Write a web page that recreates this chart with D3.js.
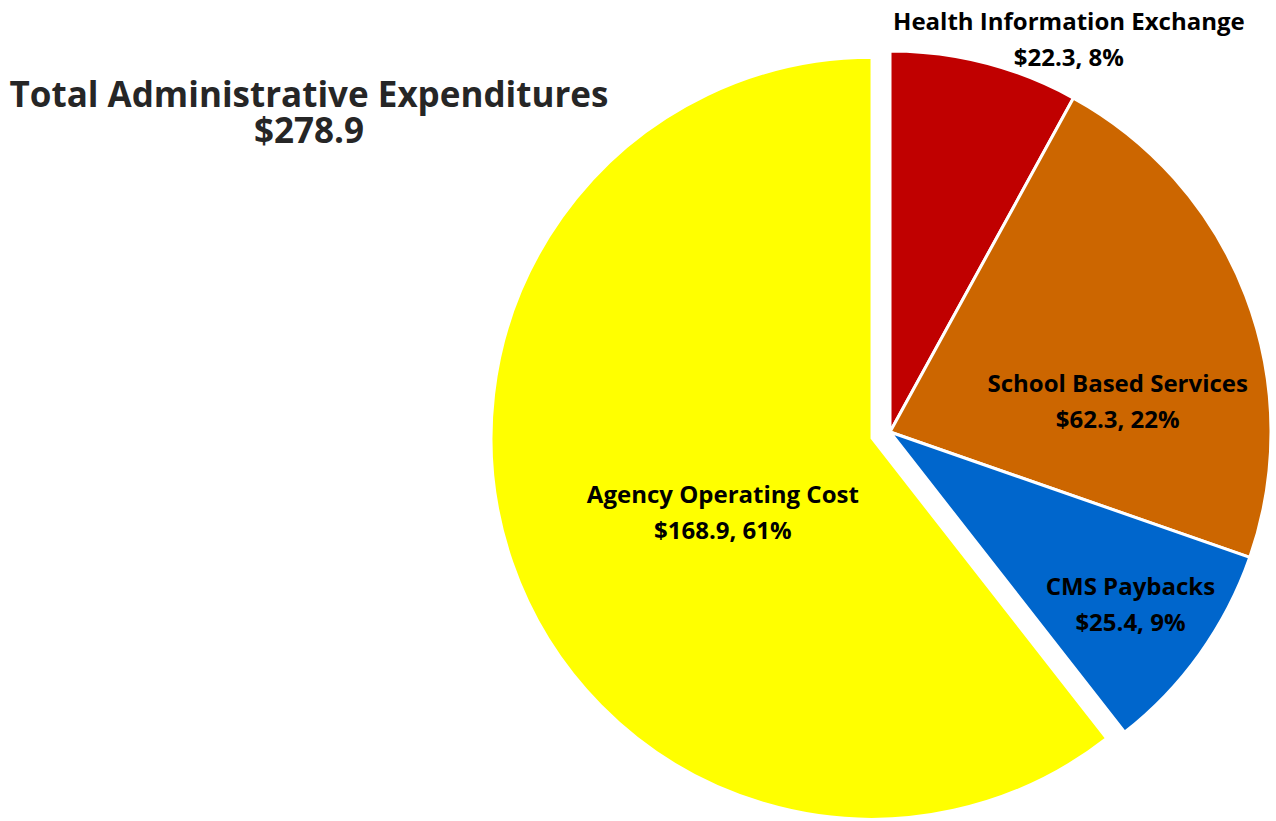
<!DOCTYPE html>
<html>
<head>
<meta charset="utf-8">
<script src="https://cdn.jsdelivr.net/npm/d3@7/dist/d3.min.js"></script>
<style>
  html, body { margin: 0; padding: 0; background: #fff; }
  svg { display: block; font-family: "Open Sans", Lato, "Noto Sans", sans-serif; font-weight: 700; }
</style>
</head>
<body>
<svg id="chart" width="1276" height="821"></svg>
<script>
// Administrative expenditures, $ millions
const categories = ["Health Information Exchange", "School Based Services", "CMS Paybacks", "Agency Operating Cost"];
const values = [22.3, 62.3, 25.4, 168.9];
const colors = ["#C00000", "#CC6600", "#0066CC", "#FFFF00"];
const titleLines = ["Total Administrative Expenditures", "$278.9"];

const total = d3.sum(values);
const svg = d3.select("#chart");

const cx = 890, cy = 432, radius = 381;
const explodeIndex = 3, explodeDist = 19;

const pie = d3.pie().sort(null).value(d => d.value);
const arc = d3.arc().innerRadius(0).outerRadius(radius);

const data = categories.map((c, i) => ({ name: c, value: values[i], color: colors[i] }));
const arcs = pie(data);

// Label anchor (polar, relative to each slice's own centre)
const labelPlacement = [
  { angle: 24.4, dist: 433 },
  { angle: 81.9, dist: 230 },
  { angle: 125.4, dist: 295 },
  { angle: 244, dist: 166 }
];

const g = svg.append("g").attr("transform", `translate(${cx},${cy})`);

arcs.forEach((a, i) => {
  const mid = (a.startAngle + a.endAngle) / 2;
  const off = i === explodeIndex ? explodeDist : 0;
  const ox = Math.sin(mid) * off, oy = -Math.cos(mid) * off;
  const sg = g.append("g").attr("transform", `translate(${ox},${oy})`);
  sg.append("path")
    .attr("d", arc(a))
    .attr("fill", a.data.color)
    .attr("stroke", "#fff")
    .attr("stroke-width", 3)
    .attr("stroke-linejoin", "round");

  const lp = labelPlacement[i];
  const ang = lp.angle * Math.PI / 180;
  const lx = Math.sin(ang) * lp.dist, ly = -Math.cos(ang) * lp.dist;
  const pct = Math.round(a.data.value / total * 100);
  const t = sg.append("text")
    .attr("text-anchor", "middle")
    .attr("font-size", 24)
    .attr("fill", "#000");
  t.append("tspan").attr("x", lx).attr("y", ly - 8).text(a.data.name);
  t.append("tspan").attr("x", lx).attr("y", ly + 28).text(`$${a.data.value.toFixed(1)}, ${pct}%`);
});

// Title
const title = svg.append("text")
  .attr("text-anchor", "middle")
  .attr("font-size", 35)
  .attr("fill", "#262626");
title.append("tspan").attr("x", 309).attr("y", 107).text(titleLines[0]);
title.append("tspan").attr("x", 309).attr("y", 143).text(titleLines[1]);
</script>
</body>
</html>
